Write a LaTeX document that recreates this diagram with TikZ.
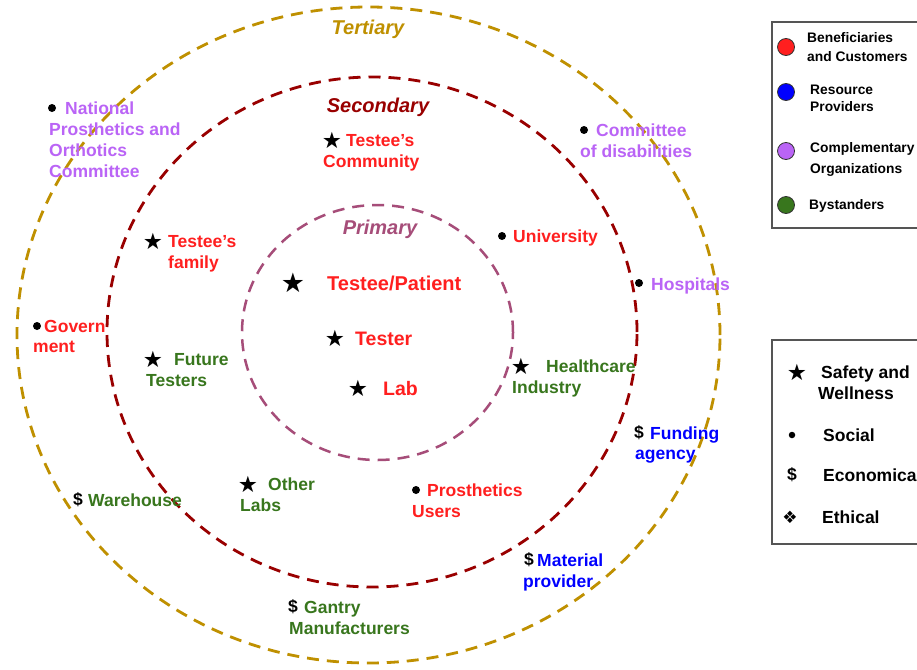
\documentclass[tikz,border=0pt]{standalone}
\usepackage{fontspec}
\setmainfont{Liberation Sans}
\newfontfamily\symf{DejaVu Sans}
\definecolor{cgold}{HTML}{BF9000}
\definecolor{cdred}{HTML}{990000}
\definecolor{cprim}{HTML}{A64D79}
\definecolor{cred}{HTML}{FF1F1F}
\definecolor{cpurp}{HTML}{BA64F6}
\definecolor{cgreen}{HTML}{38761D}
\definecolor{cblue}{HTML}{0000FF}
\definecolor{cbox}{HTML}{555555}
\begin{document}
\begin{tikzpicture}[x=1pt,y=-1pt,
  txt/.style={anchor=base west, inner sep=0pt, font=\bfseries\fontsize{17.5}{21}\selectfont},
  bigtxt/.style={anchor=base west, inner sep=0pt, font=\bfseries\fontsize{19.5}{23}\selectfont},
  patient/.style={anchor=base west, inner sep=0pt, font=\bfseries\fontsize{20}{24}\selectfont},
  head/.style={anchor=base, inner sep=0pt, font=\bfseries\itshape\fontsize{20}{24}\selectfont},
  legtxt/.style={anchor=base west, inner sep=0pt, font=\bfseries\fontsize{13.8}{17}\selectfont},
  starsym/.style={inner sep=0pt, font=\symf\fontsize{22.5}{22.5}\selectfont},
  bigstar/.style={inner sep=0pt, font=\symf\fontsize{27}{27}\selectfont},
  ethsym/.style={inner sep=0pt, font=\symf\fontsize{17}{17}\selectfont},
  dotsym/.style={circle, fill=black, inner sep=0pt, minimum size=8pt},
  dollar/.style={inner sep=0pt, font=\bfseries\fontsize{17.5}{21}\selectfont},
  ring/.style={dash pattern=on 12pt off 8pt, line width=2.8pt},
  legdot/.style={circle, draw=black!80, line width=0.8pt, inner sep=0pt, minimum size=17pt},
  legbox/.style={draw=cbox, line width=1.3pt}
]
\useasboundingbox (0,0) rectangle (917,669);
\fill[white] (0,0) rectangle (917,669);

% rings
\draw[ring, cgold] (368.5,335) ellipse [x radius=351.5pt, y radius=328pt];
\draw[ring, cdred] (372,332) ellipse [x radius=265pt, y radius=255pt];
\draw[ring, cprim, line width=2.5pt] (377.5,332.5) ellipse [x radius=135.5pt, y radius=127.5pt];

% headings
\node[head, text=cgold] (hter) at (368,35) {Tertiary};
\node[head, text=cdred] (hsec) at (378,112) {Secondary};
\node[head, text=cprim] (hpri) at (380,234) {Primary};

% Testee's community
\node[starsym] (s1) at (332,140) {★};
\node[txt, text=cred] (t1a) at (346,146) {Testee’s};
\node[txt, text=cred] (t1b) at (323,167) {Community};

% National prosthetics
\node[dotsym] (d2) at (52,108) {};
\node[txt, text=cpurp] (t2a) at (65,114) {National};
\node[txt, text=cpurp] (t2b) at (49,135) {Prosthetics and};
\node[txt, text=cpurp] (t2c) at (49,156) {Orthotics};
\node[txt, text=cpurp] (t2d) at (49,177) {Committee};

% Committee of disabilities
\node[dotsym] (d3) at (584,130) {};
\node[txt, text=cpurp] (t3a) at (596,136) {Committee};
\node[txt, text=cpurp] (t3b) at (580,157) {of disabilities};

% Testee's family
\node[starsym] (s4) at (153,241) {★};
\node[txt, text=cred] (t4a) at (168,247) {Testee’s};
\node[txt, text=cred] (t4b) at (168,268) {family};

% University
\node[dotsym] (d5) at (502,236) {};
\node[txt, text=cred] (t5) at (513,242) {University};

% Testee/Patient
\node[bigstar] (s6) at (293,283) {★};
\node[patient, text=cred] (t6) at (327,290) {Testee/Patient};

% Hospitals
\node[dotsym] (d7) at (639,283) {};
\node[txt, text=cpurp] (t7) at (651,290) {Hospitals};

% Government
\node[dotsym] (d8) at (37,326) {};
\node[txt, text=cred] (t8a) at (44,332) {Govern};
\node[txt, text=cred] (t8b) at (33,352) {ment};

% Tester
\node[starsym] (s9) at (335,338) {★};
\node[bigtxt, text=cred] (t9) at (355,345) {Tester};

% Future testers
\node[starsym] (s10) at (153,359) {★};
\node[txt, text=cgreen] (t10a) at (174,365) {Future};
\node[txt, text=cgreen] (t10b) at (146,386) {Testers};

% Healthcare industry
\node[starsym] (s11) at (521,366) {★};
\node[txt, text=cgreen] (t11a) at (546,372) {Healthcare};
\node[txt, text=cgreen] (t11b) at (512,393) {Industry};

% Lab
\node[starsym] (s12) at (358,388) {★};
\node[bigtxt, text=cred] (t12) at (383,395) {Lab};

% Funding agency
\node[dollar] (m13) at (639,433) {\$};
\node[txt, text=cblue] (t13a) at (650,439) {Funding};
\node[txt, text=cblue] (t13b) at (635,459) {agency};

% Other labs
\node[starsym] (s14) at (248,484) {★};
\node[txt, text=cgreen] (t14a) at (268,490) {Other};
\node[txt, text=cgreen] (t14b) at (240,511) {Labs};

% Warehouse
\node[dollar] (m15) at (78,500) {\$};
\node[txt, text=cgreen] (t15) at (88,506) {Warehouse};

% Prosthetics users
\node[dotsym] (d16) at (416,490) {};
\node[txt, text=cred] (t16a) at (427,496) {Prosthetics};
\node[txt, text=cred] (t16b) at (412,517) {Users};

% Material provider
\node[dollar] (m17) at (529,560) {\$};
\node[txt, text=cblue] (t17a) at (537,566) {Material};
\node[txt, text=cblue] (t17b) at (523,587) {provider};

% Gantry manufacturers
\node[dollar] (m18) at (293,607) {\$};
\node[txt, text=cgreen] (t18a) at (304,613) {Gantry};
\node[txt, text=cgreen] (t18b) at (289,634) {Manufacturers};

% legend 1
\draw[legbox] (917,22) -- (772,22) -- (772,228) -- (917,228);
\node[legdot, fill=cred] (l1) at (786,47) {};
\node[legtxt] (l1a) at (807,42) {Beneficiaries};
\node[legtxt] (l1b) at (807,61) {and Customers};
\node[legdot, fill=cblue] (l2) at (786,92) {};
\node[legtxt] (l2a) at (810,94) {Resource};
\node[legtxt] (l2b) at (810,111) {Providers};
\node[legdot, fill=cpurp] (l3) at (786,151) {};
\node[legtxt] (l3a) at (810,152) {Complementary};
\node[legtxt] (l3b) at (810,173) {Organizations};
\node[legdot, fill=cgreen] (l4) at (786,205) {};
\node[legtxt] (l4a) at (809,209) {Bystanders};

% legend 2
\draw[legbox] (917,340) -- (772,340) -- (772,544) -- (917,544);
\node[starsym] (k1) at (797,372) {★};
\node[txt] (k1a) at (821,378) {Safety and};
\node[txt] (k1b) at (818,399) {Wellness};
\node[dotsym, minimum size=6.5pt] (k2) at (792,435) {};
\node[txt] (k2a) at (823,441) {Social};
\node[dollar] (k3) at (792,475) {\$};
\node[txt] (k3a) at (823,481) {Economica};
\node[ethsym] (k4) at (790,517) {❖};
\node[txt] (k4a) at (822,523) {Ethical};
\end{tikzpicture}
\end{document}
